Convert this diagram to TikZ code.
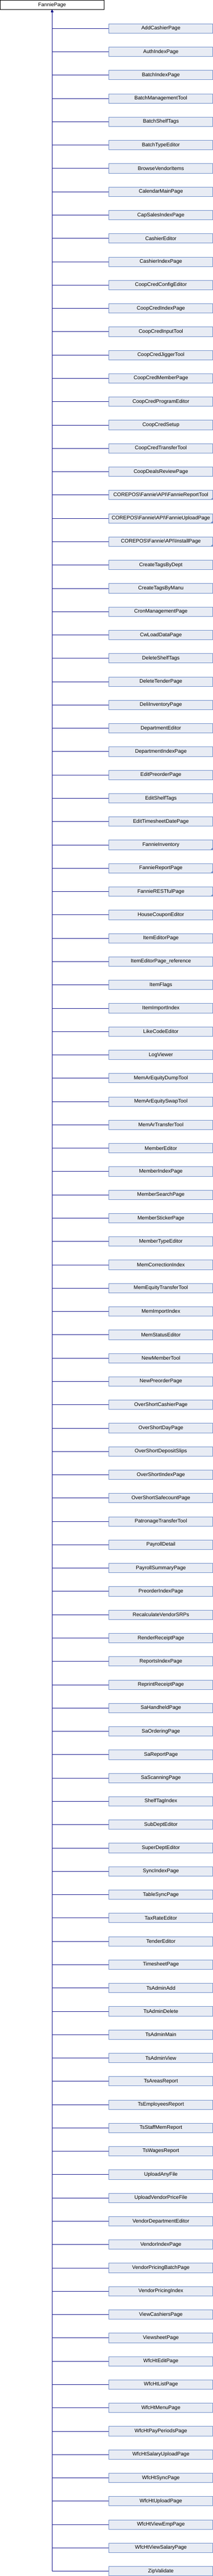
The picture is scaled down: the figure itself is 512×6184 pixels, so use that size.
\documentclass[tikz,border=0pt]{standalone}
\usepackage{fontspec}
\setmainfont{Liberation Sans}
\usetikzlibrary{arrows.meta}
\definecolor{edgeblue}{RGB}{20,20,140}
\definecolor{boxfill}{RGB}{232,236,244}
\definecolor{boxline}{RGB}{110,140,200}
\begin{document}
\begin{tikzpicture}[x=1pt,y=-1pt,
  rootbox/.style={draw=black,fill=white,line width=1pt,minimum width=249.5pt,minimum height=22.5pt,inner sep=0pt,font=\fontsize{12.4}{14}\selectfont},
  childbox/.style={draw=boxline,fill=boxfill,line width=1pt,minimum width=249.5pt,minimum height=22.5pt,inner sep=0pt,font=\fontsize{12.4}{14}\selectfont},
  inh/.style={draw=edgeblue,line width=1pt,-{Latex[length=5pt,width=5pt]}},
  moremark/.style={fill=boxline,draw=none}]
\useasboundingbox (0,0) rectangle (512,6184);
\node[rootbox] (fp) at (125.25,11.75) {FanniePage};
\foreach \nm [count=\i from 0] in {
AddCashierPage,AuthIndexPage,BatchIndexPage,BatchManagementTool,BatchShelfTags,BatchTypeEditor,BrowseVendorItems,CalendarMainPage,CapSalesIndexPage,CashierEditor,
CashierIndexPage,CoopCredConfigEditor,CoopCredIndexPage,CoopCredInputTool,CoopCredJiggerTool,CoopCredMemberPage,CoopCredProgramEditor,CoopCredSetup,CoopCredTransferTool,CoopDealsReviewPage,
{COREPOS\textbackslash Fannie\textbackslash API\textbackslash FannieReportTool},{COREPOS\textbackslash Fannie\textbackslash API\textbackslash FannieUploadPage},{COREPOS\textbackslash Fannie\textbackslash API\textbackslash InstallPage},CreateTagsByDept,CreateTagsByManu,CronManagementPage,CwLoadDataPage,DeleteShelfTags,DeleteTenderPage,DeliInventoryPage,
DepartmentEditor,DepartmentIndexPage,EditPreorderPage,EditShelfTags,EditTimesheetDatePage,FannieInventory,FannieReportPage,FannieRESTfulPage,HouseCouponEditor,ItemEditorPage,
{ItemEditorPage\_reference},ItemFlags,ItemImportIndex,LikeCodeEditor,LogViewer,MemArEquityDumpTool,MemArEquitySwapTool,MemArTransferTool,MemberEditor,MemberIndexPage,
MemberSearchPage,MemberStickerPage,MemberTypeEditor,MemCorrectionIndex,MemEquityTransferTool,MemImportIndex,MemStatusEditor,NewMemberTool,NewPreorderPage,OverShortCashierPage,
OverShortDayPage,OverShortDepositSlips,OverShortIndexPage,OverShortSafecountPage,PatronageTransferTool,PayrollDetail,PayrollSummaryPage,PreorderIndexPage,RecalculateVendorSRPs,RenderReceiptPage,
ReportsIndexPage,ReprintReceiptPage,SaHandheldPage,SaOrderingPage,SaReportPage,SaScanningPage,ShelfTagIndex,SubDeptEditor,SuperDeptEditor,SyncIndexPage,
TableSyncPage,TaxRateEditor,TenderEditor,TimesheetPage,TsAdminAdd,TsAdminDelete,TsAdminMain,TsAdminView,TsAreasReport,TsEmployeesReport,
TsStaffMemReport,TsWagesReport,UploadAnyFile,UploadVendorPriceFile,VendorDepartmentEditor,VendorIndexPage,VendorPricingBatchPage,VendorPricingIndex,ViewCashiersPage,ViewsheetPage,
WfcHtEditPage,WfcHtListPage,WfcHtMenuPage,WfcHtPayPeriodsPage,WfcHtSalaryUploadPage,WfcHtSyncPage,WfcHtUploadPage,WfcHtViewEmpPage,WfcHtViewSalaryPage,ZipValidate} {
  \node[childbox] (c\i) at (386.75,68.3+56*\i) {\nm};
}
\foreach \i in {0,...,109} {
  \draw[inh] (c\i.west) -| (fp.south);
}
\foreach \i in {20,21,22,35,36,37} {
  \fill[moremark] ([xshift=-0.5pt,yshift=0.5pt]c\i.south east) -- ++(-5,0) -- ++(5,-5) -- cycle;
}
\end{tikzpicture}
\end{document}
